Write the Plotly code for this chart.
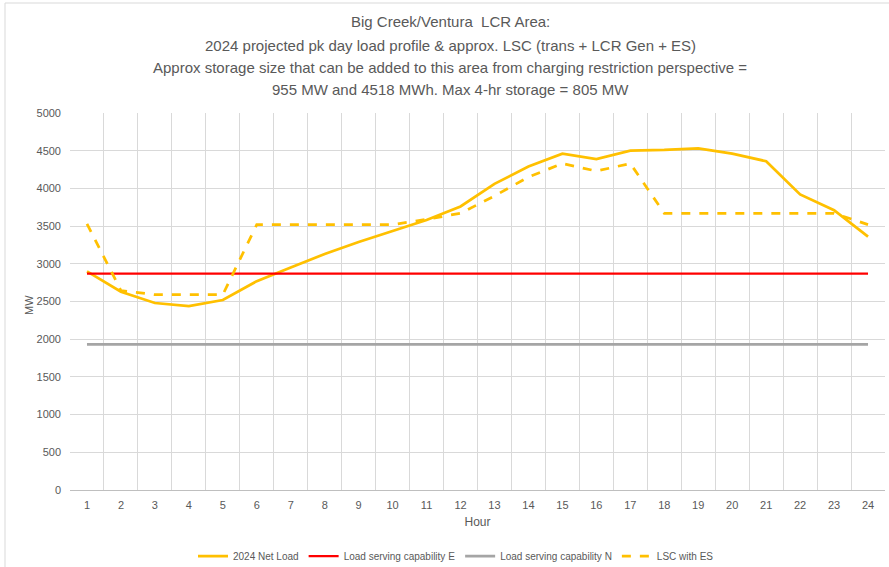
import plotly.graph_objects as go

hours = [str(h) for h in range(1, 25)]
net_load = [2900, 2630, 2480, 2440, 2520, 2770, 2950, 3130, 3290, 3440, 3580, 3760,
            4060, 4290, 4460, 4390, 4500, 4510, 4530, 4460, 4360, 3920, 3710, 3360]
lsc_e = [2870] * 24
lsc_n = [1930] * 24
lsc_es = [3530, 2645, 2590, 2590, 2590, 3520, 3520, 3520, 3520, 3520, 3590, 3670,
          3900, 4150, 4330, 4230, 4330, 3670, 3670, 3670, 3670, 3670, 3670, 3520]

title_lines = [
    "Big Creek/Ventura  LCR Area:",
    "2024 projected pk day load profile & approx. LSC (trans + LCR Gen + ES)",
    "Approx storage size that can be added to this area from charging restriction perspective =",
    "955 MW and 4518 MWh. Max 4-hr storage = 805 MW",
]

FONT = "Liberation Sans, Arial, sans-serif"

fig = go.Figure()
fig.add_trace(go.Scatter(x=hours, y=net_load, mode="lines", name="2024 Net Load",
                         line=dict(color="#FFC000", width=2.75)))
fig.add_trace(go.Scatter(x=hours, y=lsc_e, mode="lines", name="Load serving capability E",
                         line=dict(color="#FF0000", width=2.25)))
fig.add_trace(go.Scatter(x=hours, y=lsc_n, mode="lines", name="Load serving capability N",
                         line=dict(color="#A5A5A5", width=2.75)))
fig.add_trace(go.Scatter(x=hours, y=lsc_es, mode="lines", name="LSC with ES",
                         line=dict(color="#FFC000", width=2.75, dash="dash")))

L, R, T, B = 70, 4, 113, 77
W, H = 889, 567
pw, ph = W - L - R, H - T - B

def py(p):
    return (H - B - p) / ph

def px(p):
    return (p - L) / pw

annotations = []
for txt, yp in zip(title_lines, [22, 45, 68, 90]):
    annotations.append(dict(text=txt, x=px(450), y=py(yp), xref="paper", yref="paper",
                            xanchor="center", yanchor="middle", showarrow=False,
                            font=dict(family=FONT, size=15, color="#595959")))
annotations.append(dict(text="MW", x=px(29), y=py(305), xref="paper", yref="paper",
                        xanchor="center", yanchor="middle", showarrow=False, textangle=-90,
                        font=dict(family=FONT, size=11, color="#595959")))

fig.update_layout(
    width=W, height=H,
    margin=dict(l=L, r=R, t=T, b=B, autoexpand=False),
    paper_bgcolor="white", plot_bgcolor="white",
    font=dict(family=FONT, color="#595959", size=11),
    showlegend=True,
    legend=dict(orientation="h", x=px(456), xanchor="center", y=py(556), yanchor="middle",
                font=dict(size=10, color="#595959"), itemwidth=30, tracegroupgap=0),
    annotations=annotations,
    shapes=[dict(type="rect", xref="paper", yref="paper",
                 x0=px(5), x1=px(895), y0=py(575), y1=py(3),
                 line=dict(color="#D9D9D9", width=1), fillcolor="rgba(0,0,0,0)", layer="below")],
    xaxis=dict(type="category", tickson="boundaries", showgrid=True, gridcolor="#D9D9D9",
               gridwidth=1, ticks="", showline=True, linecolor="#BFBFBF", mirror=False,
               ticklabelstandoff=5, automargin=False,
               tickfont=dict(size=11, color="#595959"),
               title=dict(text="Hour", font=dict(size=12, color="#595959"), standoff=7),
               range=[-0.5, 23.5]),
    yaxis=dict(range=[0, 5000], dtick=500, showgrid=True, gridcolor="#D9D9D9", gridwidth=1,
               zeroline=False, showline=False, ticks="", ticklabelstandoff=8, automargin=False,
               tickfont=dict(size=11, color="#595959")),
)

fig.write_html("out.html", config={"displayModeBar": False},
               post_script="document.body.style.margin='0';document.body.style.padding='0';document.body.style.overflow='hidden';")
